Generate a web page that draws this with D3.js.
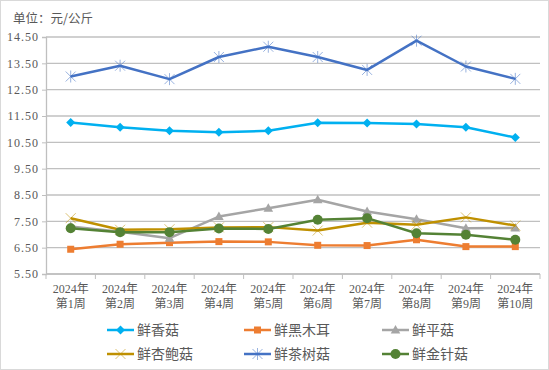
<!DOCTYPE html>
<html>
<head>
<meta charset="utf-8">
<script src="https://cdn.jsdelivr.net/npm/d3@7"></script>
<style>
  body { margin: 0; background: #fff; }
  svg text { fill: #595959; }
</style>
</head>
<body>
<div id="chart"></div>
<script>
// weeks on the x axis
const weeks = ["第1周", "第2周", "第3周", "第4周", "第5周", "第6周", "第7周", "第8周", "第9周", "第10周"];
const yearLabel = "2024年";
const yTicks = [5.5, 6.5, 7.5, 8.5, 9.5, 10.5, 11.5, 12.5, 13.5, 14.5];

// prices, 元/公斤
const xiangGu = [11.25, 11.07, 10.94, 10.88, 10.94, 11.24, 11.23, 11.20, 11.07, 10.68];
const heiMuEr = [6.44, 6.63, 6.69, 6.73, 6.72, 6.59, 6.58, 6.80, 6.54, 6.54];
const pingGu = [7.30, 7.10, 6.86, 7.68, 8.00, 8.32, 7.87, 7.58, 7.24, 7.25];
const xingBaoGu = [7.62, 7.18, 7.20, 7.27, 7.28, 7.15, 7.45, 7.37, 7.65, 7.34];
const chaShuGu = [13.00, 13.41, 12.90, 13.74, 14.13, 13.74, 13.25, 14.36, 13.38, 12.91];
const jinZhenGu = [7.24, 7.09, 7.09, 7.23, 7.21, 7.56, 7.62, 7.05, 6.99, 6.80];

const series = [
  {name: "鲜香菇", values: xiangGu, color: "#00B0F0", marker: "diamond"},
  {name: "鲜黑木耳", values: heiMuEr, color: "#ED7D31", marker: "square"},
  {name: "鲜平菇", values: pingGu, color: "#A5A5A5", marker: "triangle"},
  {name: "鲜杏鲍菇", values: xingBaoGu, color: "#BF9000", marker: "x"},
  {name: "鲜茶树菇", values: chaShuGu, color: "#4472C4", marker: "star"},
  {name: "鲜金针菇", values: jinZhenGu, color: "#548235", marker: "circle"}
];

const width = 549, height = 370;
const margin = {top: 37, right: 9, bottom: 96, left: 46};
const serif = "'Liberation Serif', 'Noto Sans CJK SC', serif";
const cjk = "'Noto Sans CJK SC', sans-serif";

const svg = d3.select("#chart").append("svg")
    .attr("width", width)
    .attr("height", height);

// chart border
svg.append("rect")
    .attr("x", 0.5).attr("y", 0.5)
    .attr("width", width - 1).attr("height", height - 1)
    .attr("fill", "#fff")
    .attr("stroke", "#D9D9D9");

svg.append("text")
    .attr("x", 13).attr("y", 23)
    .style("font-family", cjk)
    .style("font-size", "12.5px")
    .text("单位：元/公斤");

const x = d3.scaleBand()
    .domain(weeks)
    .range([margin.left, width - margin.right]);
const y = d3.scaleLinear()
    .domain([5.5, 14.5])
    .range([height - margin.bottom, margin.top]);

// gridlines
svg.append("g")
    .selectAll("line")
    .data(yTicks)
    .enter().append("line")
    .attr("x1", margin.left).attr("x2", width - margin.right)
    .attr("y1", d => y(d)).attr("y2", d => y(d))
    .attr("stroke", "#C0C0C0")
    .attr("stroke-width", 1.3);

// y axis
const yAxis = svg.append("g")
    .attr("transform", `translate(${margin.left},0)`)
    .call(d3.axisLeft(y).tickValues(yTicks).tickFormat(d3.format(".2f")).tickSize(4).tickPadding(3));
yAxis.select(".domain").attr("stroke", "#BFBFBF").attr("stroke-width", 1.3);
yAxis.selectAll(".tick line").attr("stroke", "#BFBFBF");
yAxis.selectAll(".tick text")
    .style("font-family", serif)
    .style("font-size", "12px")
    .style("letter-spacing", "1px")
    .attr("fill", "#595959");

// x axis with ticks between categories
const xAxisG = svg.append("g")
    .attr("transform", `translate(0,${height - margin.bottom})`);
xAxisG.append("line")
    .attr("x1", margin.left).attr("x2", width - margin.right)
    .attr("stroke", "#BFBFBF").attr("stroke-width", 1.3);
xAxisG.selectAll(".sep")
    .data(weeks.concat(["end"]))
    .enter().append("line")
    .attr("class", "sep")
    .attr("x1", (d, i) => margin.left + i * x.bandwidth())
    .attr("x2", (d, i) => margin.left + i * x.bandwidth())
    .attr("y1", 0).attr("y2", 5)
    .attr("stroke", "#BFBFBF");
const xl = xAxisG.selectAll(".xlabel")
    .data(weeks)
    .enter().append("text")
    .attr("class", "xlabel")
    .attr("text-anchor", "middle")
    .style("font-family", serif)
    .style("font-size", "12px");
xl.append("tspan")
    .attr("x", d => x(d) + x.bandwidth() / 2)
    .attr("y", 19)
    .text(yearLabel);
xl.append("tspan")
    .attr("x", d => x(d) + x.bandwidth() / 2)
    .attr("y", 34)
    .text(d => d);

// marker drawing
function drawMarker(g, type, color) {
  if (type === "diamond") {
    g.append("path").attr("d", "M0,-4.5L4.5,0L0,4.5L-4.5,0Z").attr("fill", color);
  } else if (type === "square") {
    g.append("rect").attr("x", -3.5).attr("y", -3.5).attr("width", 7).attr("height", 7).attr("fill", color);
  } else if (type === "triangle") {
    g.append("path").attr("d", "M0,-5L4.8,3.5L-4.8,3.5Z").attr("fill", color);
  } else if (type === "circle") {
    g.append("circle").attr("r", 5).attr("fill", color);
  } else if (type === "x") {
    g.append("path").attr("d", "M-5,-5L5,5M5,-5L-5,5")
        .attr("stroke", color).attr("stroke-opacity", 0.55).attr("stroke-width", 1);
  } else if (type === "star") {
    g.append("path").attr("d", "M-5,-5L5,5M5,-5L-5,5M0,-6L0,6")
        .attr("stroke", color).attr("stroke-opacity", 0.55).attr("stroke-width", 1);
  }
}

const line = d3.line()
    .x((d, i) => x(weeks[i]) + x.bandwidth() / 2)
    .y(d => y(d));

series.forEach(s => {
  svg.append("path")
      .datum(s.values)
      .attr("d", line)
      .attr("fill", "none")
      .attr("stroke", s.color)
      .attr("stroke-width", 2.5)
      .attr("stroke-linejoin", "round");
  s.values.forEach((v, i) => {
    const g = svg.append("g")
        .attr("transform", `translate(${x(weeks[i]) + x.bandwidth() / 2},${y(v)})`);
    drawMarker(g, s.marker, s.color);
  });
});

// legend
const legendX = [107, 244, 382];
const legendY = [330, 354];
series.forEach((s, i) => {
  const lx = legendX[i % 3], ly = legendY[Math.floor(i / 3)];
  const g = svg.append("g");
  g.append("line")
      .attr("x1", lx).attr("x2", lx + 27)
      .attr("y1", ly).attr("y2", ly)
      .attr("stroke", s.color).attr("stroke-width", 2.5);
  const m = g.append("g").attr("transform", `translate(${lx + 13.5},${ly})`);
  drawMarker(m, s.marker, s.color);
  g.append("text")
      .attr("x", lx + 30).attr("y", ly)
      .attr("dy", "0.36em")
      .style("font-family", cjk)
      .style("font-size", "14px")
      .text(s.name);
});
</script>
</body>
</html>
